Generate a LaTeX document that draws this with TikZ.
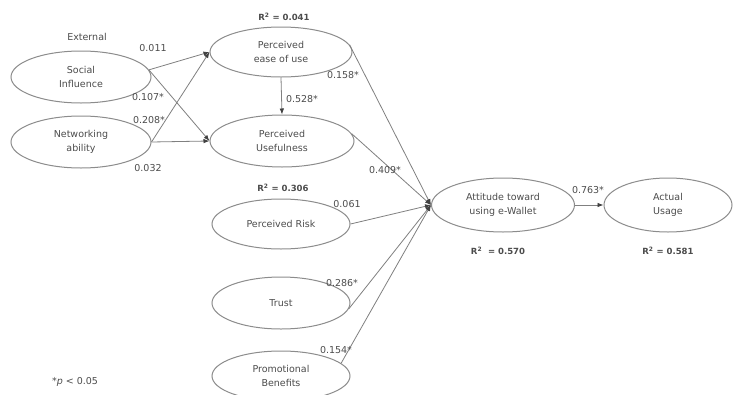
\documentclass[tikz,border=0pt]{standalone}
\usepackage{fontspec}
\setmainfont{DejaVu Sans}
\usetikzlibrary{shapes.geometric,arrows.meta}
\definecolor{ellcol}{gray}{0.55}
\definecolor{linecol}{gray}{0.5}
\definecolor{txtcol}{gray}{0.3}
\definecolor{tipcol}{gray}{0.25}
\tikzset{
  lv/.style={ellipse, draw=ellcol, line width=1pt, inner sep=0pt, align=center,
             minimum width=140, minimum height=52, text=txtcol},
  path/.style={draw=linecol, line width=0.8pt, -{Latex[length=6pt,width=4.5pt,fill=tipcol,color=tipcol]}},
  coef/.style={text=txtcol, inner sep=1pt},
  rsq/.style={text=txtcol, font=\fontsize{8.5}{10}\selectfont\bfseries, inner sep=1pt}
}
\begin{document}
\begin{tikzpicture}[x=1pt,y=-1pt, font=\fontsize{9.5}{13.5}\selectfont]
\useasboundingbox[fill=white] (0,0) rectangle (734,394);
\node[lv] (si) at (81,77) {Social\\Influence};
\node[lv] (na) at (81,142) {Networking\\ability};
\node[lv, minimum width=142, minimum height=50] (peou) at (281,52) {Perceived\\ease of use};
\node[lv, minimum width=144, minimum height=52] (pu) at (282,141) {Perceived\\Usefulness};
\node[lv, minimum width=138, minimum height=50] (risk) at (281,224) {Perceived Risk};
\node[lv, minimum width=138, minimum height=52] (trust) at (281,303) {Trust};
\node[lv, minimum width=138, minimum height=50] (promo) at (281,376) {Promotional\\Benefits};
\node[lv, minimum width=143, minimum height=54] (att) at (503,205) {Attitude toward\\using e-Wallet};
\node[lv, minimum width=128, minimum height=54] (use) at (668,205) {Actual\\Usage};

\draw[path] (si.6) -- (peou.west);
\draw[path] (si.6) -- (pu.west);
\draw[path] (na.east) -- (peou.west);
\draw[path] (na.east) -- (pu.west);
\draw[path] (peou.south) -- (pu.north);
\draw[path] (peou.6) -- (att.west);
\draw[path] (pu.6) -- (att.west);
\draw[path] (risk.east) -- (att.west);
\draw[path] (trust.-5) -- (att.west);
\draw[path] (promo.12) -- (att.west);
\draw[path] (att.east) -- (use.west);

\node[coef] (lext) at (87,37) {External};
\node[coef] (l1) at (153,48) {0.011};
\node[coef] (l2) at (148,97) {0.107*};
\node[coef] (l3) at (149,120) {0.208*};
\node[coef] (l4) at (148,168) {0.032};
\node[coef] (l5) at (343,75) {0.158*};
\node[coef] (l6) at (302,99) {0.528*};
\node[coef] (l7) at (385,170) {0.409*};
\node[coef] (l8) at (347,204) {0.061};
\node[coef] (l9) at (342,283) {0.286*};
\node[coef] (l10) at (336,350) {0.154*};
\node[coef] (l11) at (588,190) {0.763*};
\node[rsq] (r1) at (284,17) {R\textsuperscript{2} = 0.041};
\node[rsq] (r2) at (283,188) {R\textsuperscript{2} = 0.306};
\node[rsq] (r3) at (498,251) {R\textsuperscript{2}\ \ = 0.570};
\node[rsq] (r4) at (668,251) {R\textsuperscript{2} = 0.581};
\node[coef] (note) at (75,382) {*\textit{p} < 0.05};
\end{tikzpicture}
\end{document}
